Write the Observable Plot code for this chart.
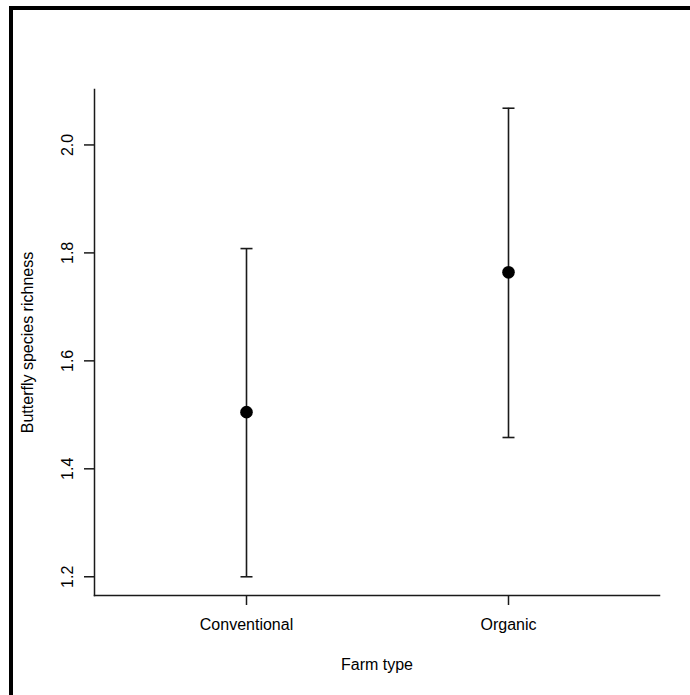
<!DOCTYPE html>
<html>
<head>
<meta charset="utf-8">
<script src="https://cdn.jsdelivr.net/npm/d3@7"></script>
<script src="https://cdn.jsdelivr.net/npm/@observablehq/plot@0.6"></script>
<style>
  html, body { margin: 0; padding: 0; background: #fff; }
  #wrap { position: relative; width: 690px; height: 695px; overflow: hidden; }
  #border { position: absolute; left: 9px; top: 6px; width: 800px; height: 800px;
            border-left: 4px solid #000; border-top: 4px solid #000; box-sizing: border-box; }
  #chart { position: absolute; left: 0; top: 0; }
  svg { font-family: "Liberation Sans", Arial, sans-serif; }
</style>
</head>
<body>
<div id="wrap"><div id="chart"></div><div id="border"></div></div>
<script>
const farmTypes = ["Conventional", "Organic"];
const meanRichness = [1.505, 1.764];
const lowerCI = [1.200, 1.458];
const upperCI = [1.808, 2.068];
const yTicks = [1.2, 1.4, 1.6, 1.8, 2.0];
const xTitle = "Farm type";
const yTitle = "Butterfly species richness";

const data = farmTypes.map((f, i) => ({farm: f, mean: meanRichness[i], lo: lowerCI[i], hi: upperCI[i]}));

const ink = "#1a1a1a";
const fmt = d3.format(".1f");

// horizontal cap symbol for error bar ends
const capSymbol = {
  draw(context, size) {
    const r = Math.sqrt(size / Math.PI);
    context.moveTo(-r, 0);
    context.lineTo(r, 0);
  }
};

const chart = Plot.plot({
  width: 690,
  height: 695,
  marginLeft: 94,
  marginRight: 31,
  marginTop: 89,
  marginBottom: 100,
  style: {fontFamily: "'Liberation Sans', Arial, sans-serif", fontSize: "16px", color: "#000", background: "transparent"},
  x: {type: "point", domain: farmTypes, padding: 0.578, label: null},
  y: {domain: [1.1653, 2.1027], label: null},
  marks: [
    Plot.frame({anchor: "left", stroke: ink, strokeWidth: 1.5}),
    Plot.frame({anchor: "bottom", stroke: ink, strokeWidth: 1.5}),
    Plot.axisY({ticks: yTicks, tickSize: 10, tickFormat: () => "", label: null, stroke: ink, strokeWidth: 1.5}),
    Plot.text(yTicks, {y: d => d, text: d => fmt(d), frameAnchor: "left", dx: -22, rotate: -90,
      textAnchor: "middle", lineAnchor: "bottom", fontSize: 16, fill: "#000"}),
    Plot.axisX({tickSize: 10, tickPadding: 13, label: null, fontSize: 16, stroke: ink, strokeWidth: 1.5, fill: "#000"}),
    Plot.text([xTitle], {frameAnchor: "bottom", dy: 74, lineAnchor: "bottom", fontSize: 16, fill: "#000"}),
    Plot.text([yTitle], {frameAnchor: "left", dx: -62, rotate: -90, textAnchor: "middle", lineAnchor: "bottom", fontSize: 16, fill: "#000"}),
    Plot.ruleX(data, {x: "farm", y1: "lo", y2: "hi", stroke: ink, strokeWidth: 1.6}),
    Plot.dot(data, {x: "farm", y: "lo", symbol: capSymbol, r: 6, stroke: ink, strokeWidth: 1.6, fill: "none"}),
    Plot.dot(data, {x: "farm", y: "hi", symbol: capSymbol, r: 6, stroke: ink, strokeWidth: 1.6, fill: "none"}),
    Plot.dot(data, {x: "farm", y: "mean", r: 6.3, fill: "#000", stroke: null})
  ]
});
document.getElementById("chart").appendChild(chart);
</script>
</body>
</html>
